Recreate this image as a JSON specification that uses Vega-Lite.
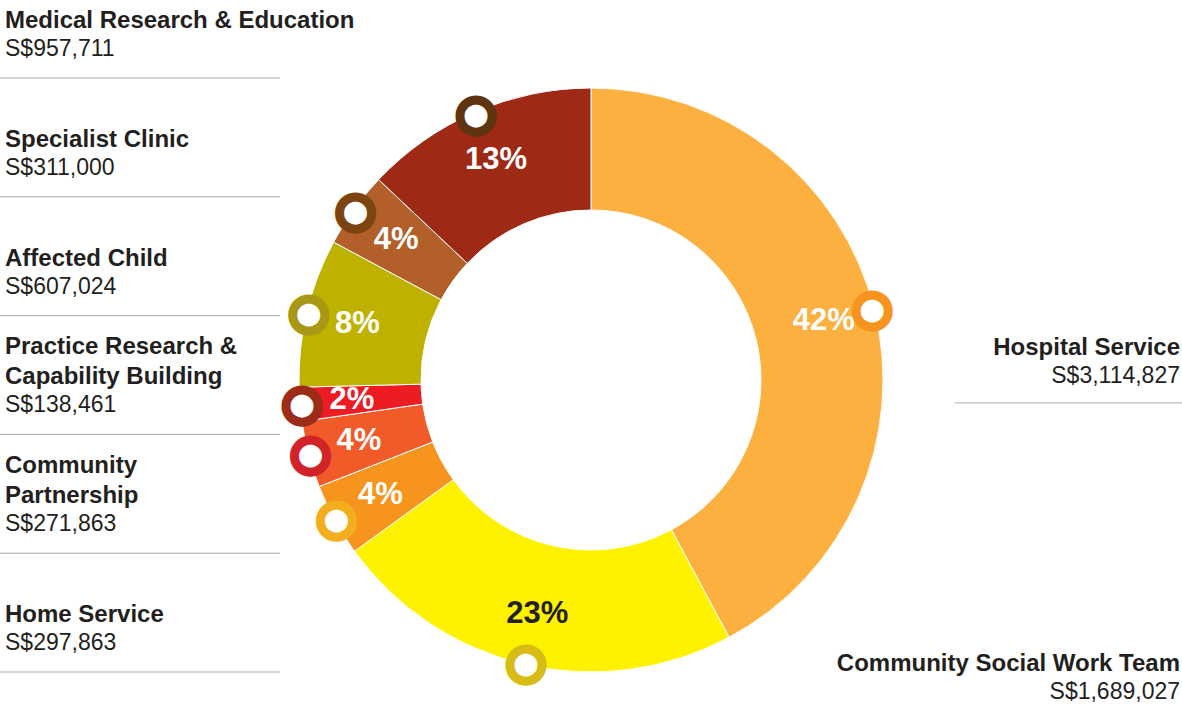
{
  "$schema": "https://vega.github.io/schema/vega-lite/v6.json",
  "width": 1182,
  "height": 680,
  "autosize": "none",
  "padding": {"top": 40, "left": 0, "right": 0, "bottom": 0},
  "background": "white",
  "config": {"view": {"stroke": null}},
  "data": {
    "values": [
      {"rank": 1, "category": "Hospital Service", "name": ["Hospital Service"], "amount": 3114827, "label": "S$3,114,827", "pct": "42%", "side": "right"},
      {"rank": 2, "category": "Community Social Work Team", "name": ["Community Social Work Team"], "amount": 1689027, "label": "S$1,689,027", "pct": "23%", "side": "right"},
      {"rank": 3, "category": "Home Service", "name": ["Home Service"], "amount": 297863, "label": "S$297,863", "pct": "4%", "side": "left"},
      {"rank": 4, "category": "Community Partnership", "name": ["Community", "Partnership"], "amount": 271863, "label": "S$271,863", "pct": "4%", "side": "left"},
      {"rank": 5, "category": "Practice Research & Capability Building", "name": ["Practice Research &", "Capability Building"], "amount": 138461, "label": "S$138,461", "pct": "2%", "side": "left"},
      {"rank": 6, "category": "Affected Child", "name": ["Affected Child"], "amount": 607024, "label": "S$607,024", "pct": "8%", "side": "left"},
      {"rank": 7, "category": "Specialist Clinic", "name": ["Specialist Clinic"], "amount": 311000, "label": "S$311,000", "pct": "4%", "side": "left"},
      {"rank": 8, "category": "Medical Research & Education", "name": ["Medical Research & Education"], "amount": 957711, "label": "S$957,711", "pct": "13%", "side": "left"}
    ]
  },
  "resolve": {"scale": {"y": "independent", "color": "independent", "stroke": "independent"}},
  "layer": [
    {
      "mark": {"type": "arc", "innerRadius": 170, "outerRadius": 292, "stroke": "white", "strokeWidth": 1},
      "encoding": {
        "theta": {"field": "amount", "type": "quantitative", "stack": true},
        "order": {"field": "rank", "type": "quantitative"},
        "color": {
          "field": "category",
          "type": "nominal",
          "legend": null,
          "scale": {
            "domain": ["Hospital Service", "Community Social Work Team", "Home Service", "Community Partnership", "Practice Research & Capability Building", "Affected Child", "Specialist Clinic", "Medical Research & Education"],
            "range": ["#FBB040", "#FFF200", "#F7941D", "#F15A29", "#ED1C24", "#BFB100", "#B35F2A", "#9E2A16"]
          }
        }
      }
    },
    {
      "mark": {"type": "text", "radius": 240, "font": "Liberation Sans", "fontWeight": "bold", "fontSize": 31, "align": "center", "baseline": "middle"},
      "encoding": {
        "theta": {"field": "amount", "type": "quantitative", "stack": true},
        "order": {"field": "rank", "type": "quantitative"},
        "text": {"field": "pct"},
        "color": {
          "condition": {"test": "datum.category === 'Community Social Work Team'", "value": "#231F20"},
          "value": "white"
        }
      }
    },
    {
      "mark": {"type": "text", "radius": 290, "font": "DejaVu Sans", "fontSize": 42, "align": "center", "baseline": "middle", "fill": "white", "strokeWidth": 9},
      "encoding": {
        "theta": {"field": "amount", "type": "quantitative", "stack": true},
        "order": {"field": "rank", "type": "quantitative"},
        "text": {"value": "●"},
        "stroke": {
          "field": "category",
          "type": "nominal",
          "legend": null,
          "scale": {
            "domain": ["Hospital Service", "Community Social Work Team", "Home Service", "Community Partnership", "Practice Research & Capability Building", "Affected Child", "Specialist Clinic", "Medical Research & Education"],
            "range": ["#F7941D", "#D6BC14", "#F3AE1F", "#D2232A", "#9C2B17", "#A99716", "#7C4410", "#5F3511"]
          }
        }
      }
    },
    {
      "transform": [{"filter": "datum.side === 'left'"}],
      "mark": {"type": "rule", "color": "#A7A9AC", "strokeWidth": 1, "yOffset": 22, "x2Offset": 280},
      "encoding": {
        "x": {"field": "side", "type": "nominal", "axis": null, "scale": {"type": "point", "domain": ["left", "right"], "padding": 0}},
        "x2": {"field": "side"},
        "y": {"field": "category", "type": "nominal", "axis": null, "scale": {"type": "point", "domain": ["Medical Research & Education", "Specialist Clinic", "Affected Child", "Practice Research & Capability Building", "Community Partnership", "Home Service"], "padding": 0.362, "align": 0.186}}
      }
    },
    {
      "transform": [{"filter": "datum.side === 'left'"}],
      "mark": {"type": "text", "font": "Liberation Sans", "fontWeight": "bold", "fontSize": 24, "align": "left", "baseline": "alphabetic", "dx": 5, "dy": {"expr": "datum.name.length > 1 ? -58 : -28"}, "lineHeight": 30, "color": "#231F20"},
      "encoding": {
        "x": {"field": "side", "type": "nominal", "axis": null, "scale": {"type": "point", "domain": ["left", "right"], "padding": 0}},
        "y": {"field": "category", "type": "nominal", "axis": null, "scale": {"type": "point", "domain": ["Medical Research & Education", "Specialist Clinic", "Affected Child", "Practice Research & Capability Building", "Community Partnership", "Home Service"], "padding": 0.362, "align": 0.186}},
        "text": {"field": "name"}
      }
    },
    {
      "transform": [{"filter": "datum.side === 'left'"}],
      "mark": {"type": "text", "font": "Liberation Sans", "fontSize": 23, "align": "left", "baseline": "alphabetic", "dx": 5, "color": "#231F20"},
      "encoding": {
        "x": {"field": "side", "type": "nominal", "axis": null, "scale": {"type": "point", "domain": ["left", "right"], "padding": 0}},
        "y": {"field": "category", "type": "nominal", "axis": null, "scale": {"type": "point", "domain": ["Medical Research & Education", "Specialist Clinic", "Affected Child", "Practice Research & Capability Building", "Community Partnership", "Home Service"], "padding": 0.362, "align": 0.186}},
        "text": {"field": "label"}
      }
    },
    {
      "transform": [{"filter": "datum.category === 'Hospital Service'"}],
      "mark": {"type": "rule", "color": "#A7A9AC", "strokeWidth": 1, "yOffset": 20, "x2Offset": -227},
      "encoding": {
        "x": {"field": "side", "type": "nominal", "axis": null, "scale": {"type": "point", "domain": ["left", "right"], "padding": 0}},
        "x2": {"field": "side"},
        "y": {"field": "category", "type": "nominal", "axis": null, "scale": {"type": "point", "domain": ["Hospital Service", "Community Social Work Team"], "padding": 0.576, "align": 0.942}}
      }
    },
    {
      "transform": [{"filter": "datum.side === 'right'"}],
      "mark": {"type": "text", "font": "Liberation Sans", "fontWeight": "bold", "fontSize": 24, "align": "right", "baseline": "alphabetic", "dx": -2, "dy": -28, "color": "#231F20"},
      "encoding": {
        "x": {"field": "side", "type": "nominal", "axis": null, "scale": {"type": "point", "domain": ["left", "right"], "padding": 0}},
        "y": {"field": "category", "type": "nominal", "axis": null, "scale": {"type": "point", "domain": ["Hospital Service", "Community Social Work Team"], "padding": 0.576, "align": 0.942}},
        "text": {"field": "name"}
      }
    },
    {
      "transform": [{"filter": "datum.side === 'right'"}],
      "mark": {"type": "text", "font": "Liberation Sans", "fontSize": 23, "align": "right", "baseline": "alphabetic", "dx": -2, "color": "#231F20"},
      "encoding": {
        "x": {"field": "side", "type": "nominal", "axis": null, "scale": {"type": "point", "domain": ["left", "right"], "padding": 0}},
        "y": {"field": "category", "type": "nominal", "axis": null, "scale": {"type": "point", "domain": ["Hospital Service", "Community Social Work Team"], "padding": 0.576, "align": 0.942}},
        "text": {"field": "label"}
      }
    }
  ]
}
